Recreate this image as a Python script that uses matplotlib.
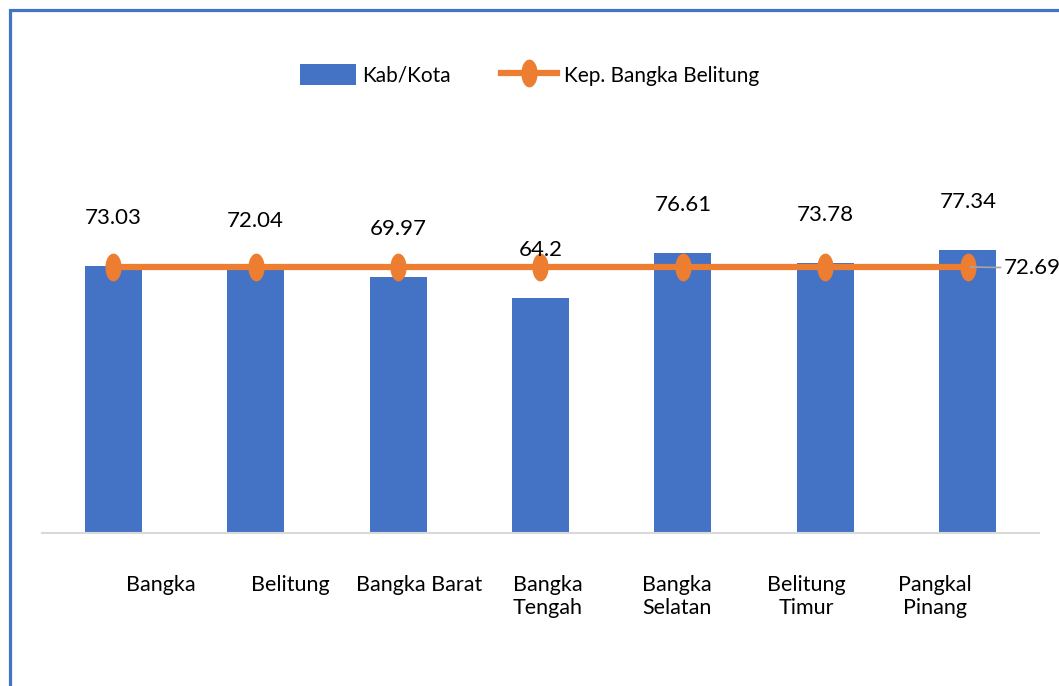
import numpy as np
import matplotlib
matplotlib.use("Agg")
import matplotlib.pyplot as plt
from matplotlib.path import Path
from matplotlib.patches import Rectangle

# Data
kabupaten = ['Bangka', 'Belitung', 'Bangka Barat', 'Bangka\nTengah',
             'Bangka\nSelatan', 'Belitung\nTimur', 'Pangkal\nPinang']
nilai_kab = [73.03, 72.04, 69.97, 64.2, 76.61, 73.78, 77.34]
nilai_prov = [72.69] * 7
label_kab = ['73.03', '72.04', '69.97', '64.2', '76.61', '73.78', '77.34']

plt.rcParams['font.family'] = ['Lato', 'DejaVu Sans']

biru = '#4472C4'
oranye = '#ED7D31'

fig = plt.figure(figsize=(10.59, 6.86), dpi=100)
ax = fig.add_axes([42 / 1059, 1 - 533 / 686, 997 / 1059, 366 / 686])

x = np.arange(len(kabupaten))

# Bingkai biru
fig.patches.append(Rectangle((10 / 1059, -0.1), 1.2, 1 - 10 / 686 + 0.1,
                             transform=fig.transFigure, fill=False,
                             edgecolor=biru, linewidth=2.3))

bars = ax.bar(x, nilai_kab, width=0.4, color=biru, label='Kab/Kota', zorder=2)

# marker elips vertikal
t = np.linspace(0, 2 * np.pi, 60)
elips = Path(np.column_stack([0.56 * np.cos(t), np.sin(t)]))
garis, = ax.plot(x, nilai_prov, color=oranye, linewidth=4.5, marker=elips,
                 markersize=19, markerfacecolor=oranye, markeredgecolor=oranye,
                 label='Kep. Bangka Belitung', zorder=3, clip_on=False)

# label nilai kab/kota
for i, (v, s) in enumerate(zip(nilai_kab, label_kab)):
    ax.annotate(s, (x[i], v), xytext=(0, 48), textcoords='offset pixels',
                ha='center', va='center', fontsize=16, zorder=4)

# label provinsi
ax.annotate('72.69', (x[-1], nilai_prov[-1]), xytext=(x[-1] + 0.25, nilai_prov[-1] - 0.3),
            ha='left', va='center', fontsize=16,
            arrowprops=dict(arrowstyle='-', color='#A5A5A5', lw=1.2,
                            shrinkA=0, shrinkB=2))

ax.set_xlim(-0.5, 6.5)
ax.set_ylim(0, 100)
# label kategori tersebar sedikit lebih rapat dari batang (seperti aslinya)
ax.set_xticks(x * 0.906 + 0.335)
ax.set_xticklabels(kabupaten, fontsize=15.5, linespacing=1.2)
ax.tick_params(axis='x', length=0, pad=30)
ax.set_yticks([])
for side in ['top', 'right', 'left']:
    ax.spines[side].set_visible(False)
ax.spines['bottom'].set_color('#D9D9D9')
ax.spines['bottom'].set_linewidth(1.5)

leg = fig.legend([bars, garis], ['Kab/Kota', 'Kep. Bangka Belitung'],
                 loc='center', bbox_to_anchor=(0.5, 1 - 75 / 686), ncol=2,
                 frameon=False, fontsize=15, handlelength=2.7, handleheight=1.15,
                 columnspacing=2.4, handletextpad=0.3)

fig.savefig('out.png', dpi=100)
